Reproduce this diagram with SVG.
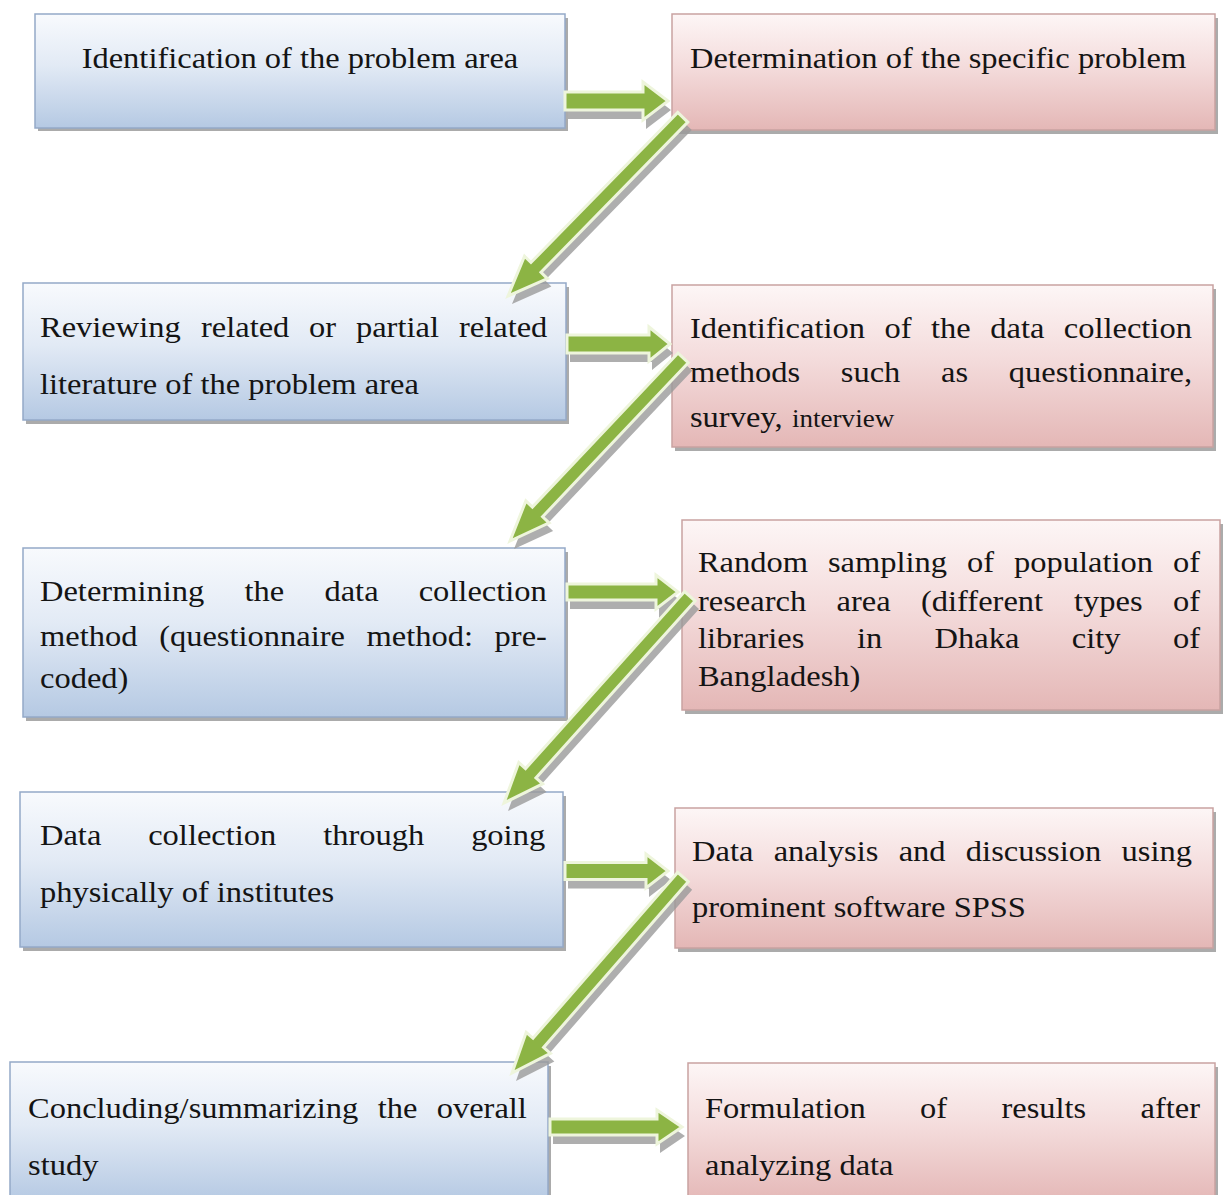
<svg xmlns="http://www.w3.org/2000/svg" xmlns:xlink="http://www.w3.org/1999/xlink" width="1223" height="1195" viewBox="0 0 1223 1195">
  <defs>
    <linearGradient id="gBlue" x1="0" y1="0" x2="0" y2="1">
      <stop offset="0" stop-color="#f8fafd"/>
      <stop offset="0.45" stop-color="#e2eaf5"/>
      <stop offset="1" stop-color="#b5c9e3"/>
    </linearGradient>
    <linearGradient id="gPink" x1="0" y1="0" x2="0" y2="1">
      <stop offset="0" stop-color="#fdf6f6"/>
      <stop offset="0.45" stop-color="#f4dcdc"/>
      <stop offset="1" stop-color="#e4b7b6"/>
    </linearGradient>
    <!-- arrow outlines, tip at the origin, pointing along +x -->
    <polygon id="h1" points="-103,-9 -25,-9 -25,-19 0,0 -25,19 -25,9 -103,9"/>
    <polygon id="h2" points="-103,-9 -21,-9 -21,-17 0,0 -21,17 -21,9 -103,9"/>
    <polygon id="h3" points="-111,-8 -22,-8 -22,-17 0,0 -22,17 -22,8 -111,8"/>
    <polygon id="h4" points="-103,-8.5 -22,-8.5 -22,-17 0,0 -22,17 -22,8.5 -103,8.5"/>
    <polygon id="h5" points="-132,-8 -25,-8 -25,-17 0,0 -25,17 -25,8 -132,8"/>
    <polygon id="d1" points="-250,-7 -40,-7 -40,-16 0,0 -40,16 -40,7 -250,7"/>
    <polygon id="d2" points="-252,-7 -40,-7 -40,-16 0,0 -40,16 -40,7 -252,7"/>
    <polygon id="d3" points="-278,-7 -40,-7 -40,-16 0,0 -40,16 -40,7 -278,7"/>
    <polygon id="d4" points="-260,-7 -40,-7 -40,-16 0,0 -40,16 -40,7 -260,7"/>
  </defs>
  <style>
    .shadow { fill: #8f8f8f; opacity: 0.75; }
    .blue { fill: url(#gBlue); stroke: #94a9c8; stroke-width: 1.5; }
    .pink { fill: url(#gPink); stroke: #c9a2a1; stroke-width: 1.5; }
    text { font-family: "Liberation Serif", "Times New Roman", serif; font-size: 30px; fill: #141414; }
    .small { font-size: 25px; }
    .arrow { fill: #8cb444; stroke: #eef5dc; stroke-width: 3; stroke-linejoin: miter; }
    .ashadow { fill: #9a9a9a; opacity: 0.8; }
  </style>
  <rect width="1223" height="1195" fill="#ffffff"/>

  <!-- left column -->
  <g id="n-identify-area">
    <rect class="shadow" x="38" y="18" width="530" height="113"/>
    <rect class="blue" x="35" y="14" width="530" height="114"/>
    <g transform="scale(1.0833 1)">
      <text x="276.9" y="68" text-anchor="middle">Identification of the problem area</text>
    </g>
  </g>

  <g id="n-review">
    <rect class="shadow" x="26" y="287" width="543" height="137"/>
    <rect class="blue" x="23" y="283" width="543" height="137"/>
    <g transform="scale(1.0833 1)">
      <text y="337"><tspan x="36.92">Reviewing</tspan><tspan x="185.5">related</tspan><tspan x="285.2">or</tspan><tspan x="328.6">partial</tspan><tspan x="423.7">related</tspan></text>
      <text x="36.92" y="394">literature of the problem area</text>
    </g>
  </g>

  <g id="n-determine-method">
    <rect class="shadow" x="26" y="552" width="542" height="169"/>
    <rect class="blue" x="23" y="548" width="542" height="169"/>
    <g transform="scale(1.0833 1)">
      <text y="601"><tspan x="36.92">Determining</tspan><tspan x="225.7">the</tspan><tspan x="299.5">data</tspan><tspan x="386.5">collection</tspan></text>
      <text y="646"><tspan x="36.92">method</tspan><tspan x="146.9">(questionnaire</tspan><tspan x="338.4">method:</tspan><tspan x="456.6">pre-</tspan></text>
      <text x="36.92" y="688">coded)</text>
    </g>
  </g>

  <g id="n-collect">
    <rect class="shadow" x="23" y="796" width="543" height="155"/>
    <rect class="blue" x="20" y="792" width="543" height="155"/>
    <g transform="scale(1.0833 1)">
      <text y="845"><tspan x="36.92">Data</tspan><tspan x="136.8">collection</tspan><tspan x="298.3">through</tspan><tspan x="434.9">going</tspan></text>
      <text x="36.92" y="902">physically of institutes</text>
    </g>
  </g>

  <g id="n-conclude">
    <rect class="shadow" x="13" y="1066" width="538" height="140"/>
    <rect class="blue" x="10" y="1062" width="538" height="140"/>
    <g transform="scale(1.0833 1)">
      <text y="1118"><tspan x="25.85">Concluding/summarizing</tspan><tspan x="348.7">the</tspan><tspan x="403.1">overall</tspan></text>
      <text x="25.85" y="1175">study</text>
    </g>
  </g>

  <!-- right column -->
  <g id="n-specific-problem">
    <rect class="shadow" x="675" y="18" width="543" height="116"/>
    <rect class="pink" x="672" y="14" width="543" height="116"/>
    <g transform="scale(1.0833 1)">
      <text x="636.9" y="68">Determination of the specific problem</text>
    </g>
  </g>

  <g id="n-identify-methods">
    <rect class="shadow" x="675" y="289" width="541" height="162"/>
    <rect class="pink" x="672" y="285" width="541" height="162"/>
    <g transform="scale(1.0833 1)">
      <text y="338"><tspan x="636.9">Identification</tspan><tspan x="816.5">of</tspan><tspan x="859.5">the</tspan><tspan x="914.1">data</tspan><tspan x="982">collection</tspan></text>
      <text y="382"><tspan x="636.9">methods</tspan><tspan x="776.1">such</tspan><tspan x="868.7">as</tspan><tspan x="931.3">questionnaire,</tspan></text>
      <text y="427"><tspan x="636.9">survey,</tspan><tspan x="731.1" class="small">interview</tspan></text>
    </g>
  </g>

  <g id="n-sampling">
    <rect class="shadow" x="685" y="524" width="538" height="190"/>
    <rect class="pink" x="682" y="520" width="538" height="190"/>
    <g transform="scale(1.0833 1)">
      <text y="572"><tspan x="644.3">Random</tspan><tspan x="764.3">sampling</tspan><tspan x="892.7">of</tspan><tspan x="936.1">population</tspan><tspan x="1082.8">of</tspan></text>
      <text y="611"><tspan x="644.3">research</tspan><tspan x="772.3">area</tspan><tspan x="850.2">(different</tspan><tspan x="991.4">types</tspan><tspan x="1082.7">of</tspan></text>
      <text y="648"><tspan x="644.3">libraries</tspan><tspan x="791">in</tspan><tspan x="862.7">Dhaka</tspan><tspan x="989.4">city</tspan><tspan x="1082.8">of</tspan></text>
      <text x="644.3" y="686">Bangladesh)</text>
    </g>
  </g>

  <g id="n-analysis">
    <rect class="shadow" x="678" y="812" width="538" height="140"/>
    <rect class="pink" x="675" y="808" width="538" height="140"/>
    <g transform="scale(1.0833 1)">
      <text y="861"><tspan x="638.8">Data</tspan><tspan x="714.2">analysis</tspan><tspan x="829.6">and</tspan><tspan x="891.6">discussion</tspan><tspan x="1035.3">using</tspan></text>
      <text x="638.8" y="917">prominent software SPSS</text>
    </g>
  </g>

  <g id="n-results">
    <rect class="shadow" x="691" y="1067" width="527" height="140"/>
    <rect class="pink" x="688" y="1063" width="527" height="140"/>
    <g transform="scale(1.0833 1)">
      <text y="1118"><tspan x="650.8">Formulation</tspan><tspan x="849.2">of</tspan><tspan x="924.4">results</tspan><tspan x="1052.9">after</tspan></text>
      <text x="650.8" y="1175">analyzing data</text>
    </g>
  </g>

  <!-- connectors: block arrows with a soft drop shadow -->
  <g id="connectors">
    <use href="#h1" class="ashadow" transform="translate(671,110)"/>
    <use href="#h1" class="arrow" transform="translate(668,101)"/>
    <use href="#d1" class="ashadow" transform="translate(512,304) rotate(134.35)"/>
    <use href="#d1" class="arrow" transform="translate(508,296) rotate(134.35)"/>

    <use href="#h2" class="ashadow" transform="translate(673,353)"/>
    <use href="#h2" class="arrow" transform="translate(670,344)"/>
    <use href="#d2" class="ashadow" transform="translate(514,549) rotate(133.4)"/>
    <use href="#d2" class="arrow" transform="translate(510,541) rotate(133.4)"/>

    <use href="#h3" class="ashadow" transform="translate(681,601)"/>
    <use href="#h3" class="arrow" transform="translate(678,592)"/>
    <use href="#d3" class="ashadow" transform="translate(508,811) rotate(131.94)"/>
    <use href="#d3" class="arrow" transform="translate(504,803) rotate(131.94)"/>

    <use href="#h4" class="ashadow" transform="translate(671,880)"/>
    <use href="#h4" class="arrow" transform="translate(668,871)"/>
    <use href="#d4" class="ashadow" transform="translate(516,1081) rotate(131.1)"/>
    <use href="#d4" class="arrow" transform="translate(512,1073) rotate(131.1)"/>

    <use href="#h5" class="ashadow" transform="translate(685,1136)"/>
    <use href="#h5" class="arrow" transform="translate(682,1127)"/>
  </g>
</svg>
